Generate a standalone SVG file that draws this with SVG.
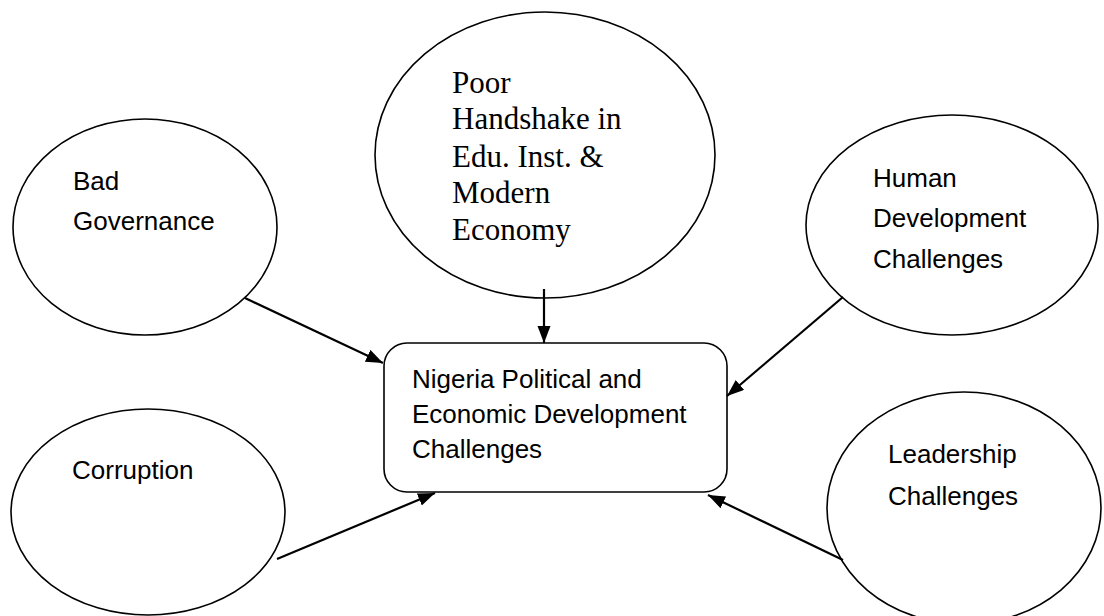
<svg xmlns="http://www.w3.org/2000/svg" width="1104" height="616" viewBox="0 0 1104 616">
<style>
.node{fill:#fff;stroke:#000;stroke-width:1.6}
.sans{font-family:"Liberation Sans",Arial,sans-serif;font-size:26px;fill:#000}
.serif{font-family:"Liberation Serif","Times New Roman",serif;font-size:31px;fill:#000}
.conn{stroke:#000;stroke-width:2.2;fill:none;marker-end:url(#ah)}
</style>
<defs>
<marker id="ah" markerUnits="userSpaceOnUse" markerWidth="18" markerHeight="14" refX="17" refY="6.5" orient="auto">
<path d="M0,0 L17,6.5 L0,13 z" fill="#000"/>
</marker>
</defs>
<rect width="1104" height="616" fill="#fff"/>
<g id="bad-governance">
<ellipse class="node" cx="145" cy="227" rx="132" ry="108"/>
<text class="sans" x="73" y="190">Bad</text>
<text class="sans" x="73" y="230">Governance</text>
</g>
<g id="poor-handshake">
<ellipse class="node" cx="545" cy="155" rx="170" ry="143"/>
<text class="serif" x="452" y="93">Poor</text>
<text class="serif" x="452" y="129">Handshake in</text>
<text class="serif" x="452" y="167">Edu. Inst. &amp;</text>
<text class="serif" x="452" y="203">Modern</text>
<text class="serif" x="452" y="240">Economy</text>
</g>
<g id="human-development">
<ellipse class="node" cx="952" cy="225" rx="146" ry="110"/>
<text class="sans" x="873" y="187">Human</text>
<text class="sans" x="873" y="227">Development</text>
<text class="sans" x="873" y="268">Challenges</text>
</g>
<g id="corruption">
<ellipse class="node" cx="148" cy="512" rx="137" ry="103"/>
<text class="sans" x="72" y="479">Corruption</text>
</g>
<g id="leadership">
<ellipse class="node" cx="964" cy="508" rx="137" ry="116"/>
<text class="sans" x="888" y="463">Leadership</text>
<text class="sans" x="888" y="505">Challenges</text>
</g>
<g id="center">
<rect class="node" x="384" y="343" width="343" height="149" rx="23" ry="23"/>
<text class="sans" x="412" y="388">Nigeria Political and</text>
<text class="sans" x="412" y="423">Economic Development</text>
<text class="sans" x="412" y="458">Challenges</text>
</g>
<g id="connectors">
<line class="conn" x1="245" y1="298" x2="383" y2="363"/>
<line class="conn" x1="544" y1="289" x2="544" y2="343"/>
<line class="conn" x1="843" y1="297" x2="727" y2="396"/>
<line class="conn" x1="277" y1="559" x2="435" y2="493"/>
<line class="conn" x1="843" y1="560" x2="708" y2="495"/>
</g>
</svg>
